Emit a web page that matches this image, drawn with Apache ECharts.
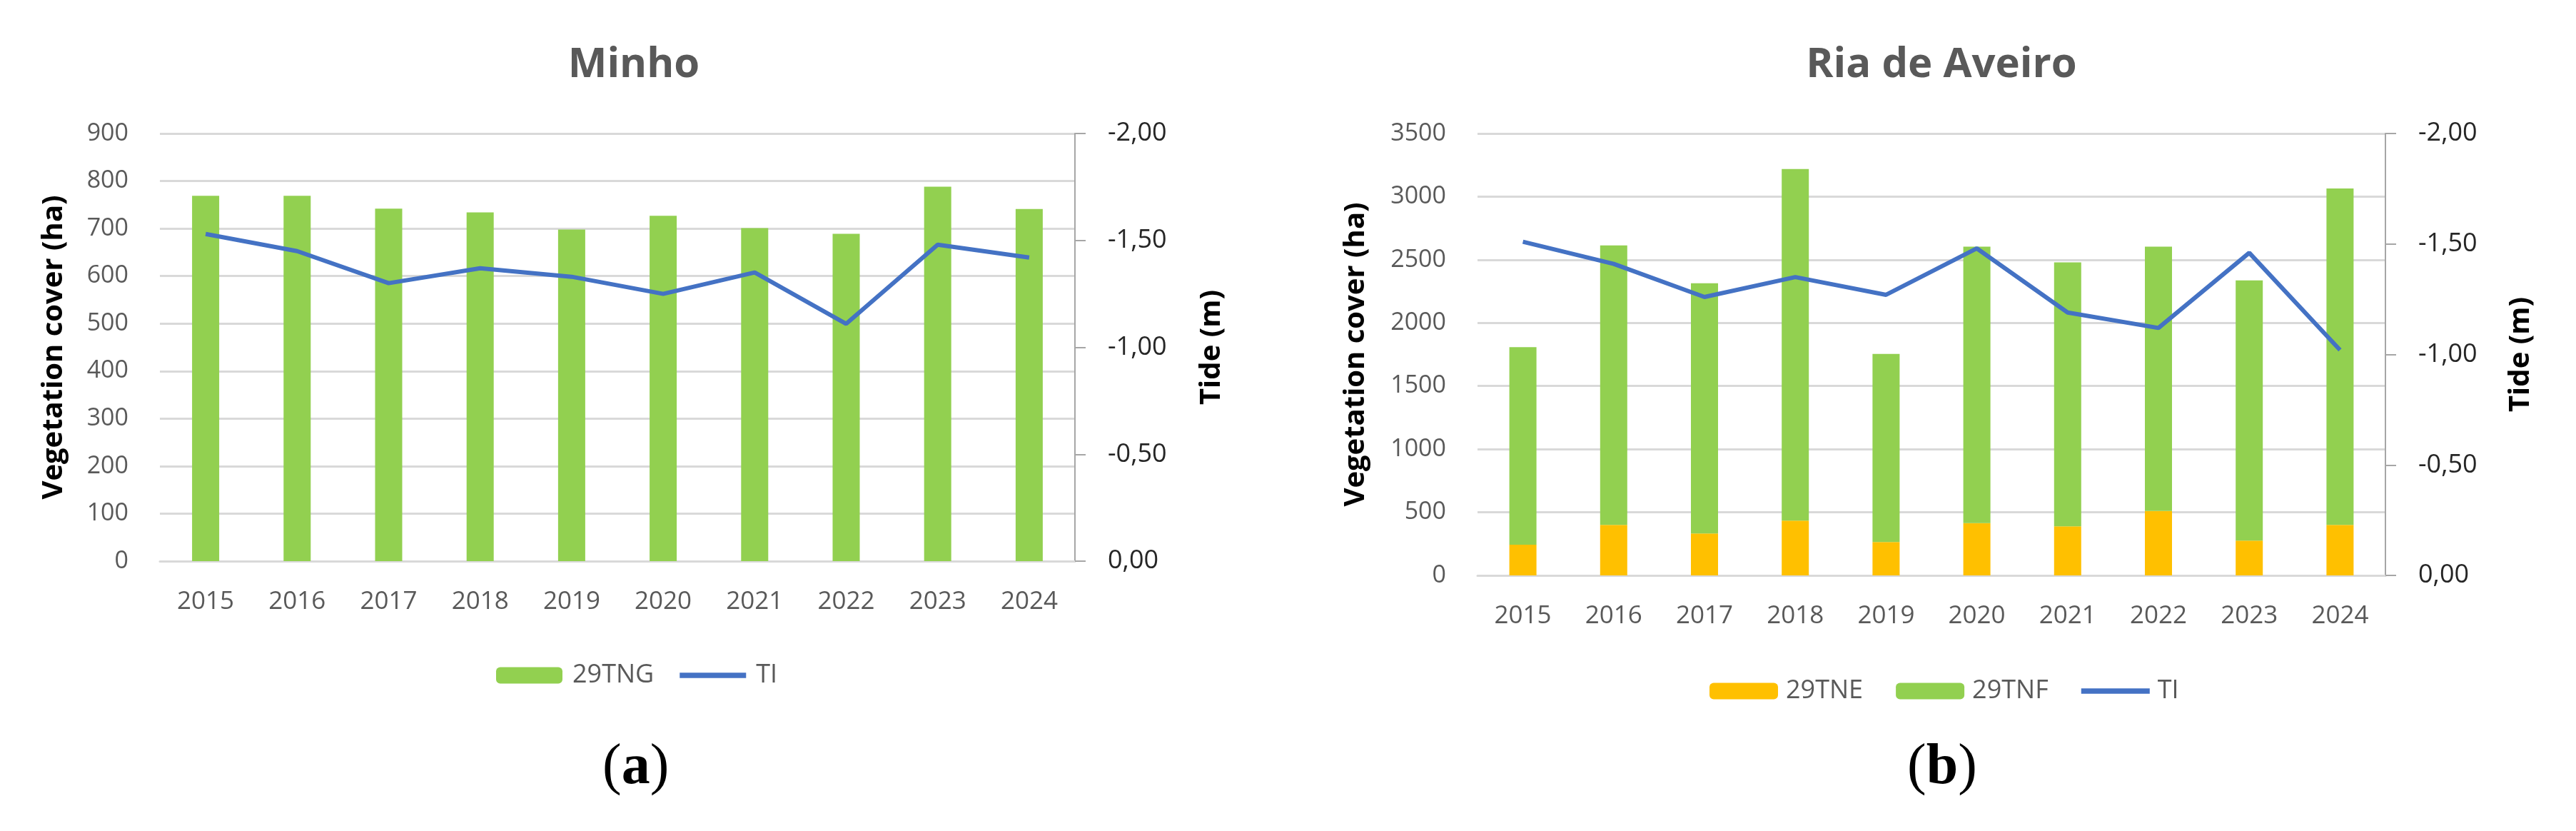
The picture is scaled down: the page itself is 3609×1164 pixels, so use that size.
<!DOCTYPE html>
<html>
<head>
<meta charset="utf-8">
<script src="https://cdn.jsdelivr.net/npm/echarts@6/dist/echarts.min.js"></script>
<style>
html,body{margin:0;padding:0;background:#fff;}
#c{width:3609px;height:1164px;}
</style>
</head>
<body>
<div id="c"></div>
<script>
var years = ['2015','2016','2017','2018','2019','2020','2021','2022','2023','2024'];
var minho29TNG = [769, 769, 742, 734, 698, 727, 701, 689, 788, 741];
var minhoTI = [-1.53, -1.45, -1.30, -1.37, -1.33, -1.25, -1.35, -1.11, -1.48, -1.42];
var aveiro29TNE = [243, 400, 332, 434, 265, 414, 389, 511, 276, 400];
var aveiro29TNF = [1565, 2213, 1982, 2784, 1489, 2190, 2090, 2093, 2060, 2665];
var aveiroTI = [-1.51, -1.41, -1.26, -1.35, -1.27, -1.48, -1.19, -1.12, -1.46, -1.02];

var FONT = 'Open Sans';
var GREEN = '#92D050', YELLOW = '#FFC000', BLUE = '#4472C4';
var LINE_ICON = 'path://M0 0 H100 V8 H0 Z';
function tideFmt(v){ return (Math.abs(v) < 1e-9 ? 0 : v).toFixed(2).replace('.', ','); }

function leftAxis(grid, max, interval, nameGap){
  return {
    type:'value', gridIndex:grid, min:0, max:max, interval:interval, position:'left',
    axisLine:{show:false}, axisTick:{show:false},
    axisLabel:{color:'#595959', fontSize:34, fontFamily:FONT, margin:44,
               formatter:function(v){ return String(v); }},
    splitLine:{show:true, lineStyle:{color:'#D9D9D9', width:3}},
    name:'Vegetation cover (ha)', nameLocation:'middle', nameRotate:90, nameGap:nameGap,
    nameTextStyle:{color:'#000', fontSize:40, fontWeight:'bold', fontFamily:FONT}
  };
}
function rightAxis(grid, nameGap){
  return {
    type:'value', gridIndex:grid, min:-2, max:0, interval:0.5, inverse:true, position:'right',
    axisLine:{show:true, lineStyle:{color:'#A6A6A6', width:2}},
    axisTick:{show:true, inside:false, length:15, lineStyle:{color:'#A6A6A6', width:2}},
    axisLabel:{color:'#262626', fontSize:36, fontFamily:FONT, margin:46, formatter:tideFmt},
    splitLine:{show:false},
    name:'Tide (m)', nameLocation:'middle', nameRotate:90, nameGap:nameGap,
    nameTextStyle:{color:'#000', fontSize:40, fontWeight:'bold', fontFamily:FONT}
  };
}
function catAxis(grid){
  return {
    type:'category', gridIndex:grid, data:years,
    axisLine:{show:true, lineStyle:{color:'#D9D9D9', width:3}},
    axisTick:{show:false},
    axisLabel:{color:'#595959', fontSize:35, fontFamily:FONT, margin:40}
  };
}

var chart = echarts.init(document.getElementById('c'));
chart.setOption({
  backgroundColor:'#fff',
  animation:false,
  title:[
    {text:'Minho', left:883, top:57, textAlign:'center',
     textStyle:{color:'#595959', fontSize:58, fontWeight:'bold', fontFamily:FONT}},
    {text:'Ria de Aveiro', left:2715, top:57, textAlign:'center',
     textStyle:{color:'#595959', fontSize:58, fontWeight:'bold', fontFamily:FONT}}
  ],
  grid:[
    {left:224, top:187, width:1282, height:599},
    {left:2070, top:187, width:1272, height:619}
  ],
  legend:[
    {left:690, top:923, itemWidth:93, itemHeight:23, itemGap:36, symbolKeepAspect:true,
     data:['29TNG', {name:'TI', icon:LINE_ICON, itemStyle:{color:BLUE}}],
     textStyle:{color:'#595959', fontSize:36, fontFamily:FONT, padding:[0,0,0,9]}},
    {left:2390, top:945, itemWidth:96, itemHeight:23, itemGap:46, symbolKeepAspect:true,
     data:['29TNE','29TNF', {name:'TI ', icon:LINE_ICON, itemStyle:{color:BLUE}}],
     textStyle:{color:'#595959', fontSize:36, fontFamily:FONT, padding:[0,0,0,6]}}
  ],
  xAxis:[catAxis(0), catAxis(1)],
  yAxis:[leftAxis(0, 900, 100, 128), rightAxis(0, 172), leftAxis(1, 3500, 500, 150), rightAxis(1, 170)],
  series:[
    {name:'29TNG', type:'bar', xAxisIndex:0, yAxisIndex:0, data:minho29TNG,
     barWidth:38, itemStyle:{color:GREEN}},
    {name:'TI', type:'line', xAxisIndex:0, yAxisIndex:1, data:minhoTI,
     symbol:'none', lineStyle:{color:BLUE, width:6}, itemStyle:{color:BLUE}},
    {name:'29TNE', type:'bar', stack:'av', xAxisIndex:1, yAxisIndex:2, data:aveiro29TNE,
     barWidth:38, itemStyle:{color:YELLOW}},
    {name:'29TNF', type:'bar', stack:'av', xAxisIndex:1, yAxisIndex:2, data:aveiro29TNF,
     barWidth:38, itemStyle:{color:GREEN}},
    {name:'TI ', type:'line', xAxisIndex:1, yAxisIndex:3, data:aveiroTI,
     symbol:'none', lineStyle:{color:BLUE, width:6}, itemStyle:{color:BLUE}}
  ],
  graphic:[
    {type:'text', left:844, top:1036, style:{
      text:'{p|(}{b|a}{p|)}', fill:'#000',
      rich:{p:{font:'80px "Liberation Serif"', fill:'#000'}, b:{font:'bold 80px "Liberation Serif"', fill:'#000'}}}},
    {type:'text', left:2672, top:1036, style:{
      text:'{p|(}{b|b}{p|)}', fill:'#000',
      rich:{p:{font:'80px "Liberation Serif"', fill:'#000'}, b:{font:'bold 80px "Liberation Serif"', fill:'#000'}}}}
  ]
});
</script>
</body>
</html>
